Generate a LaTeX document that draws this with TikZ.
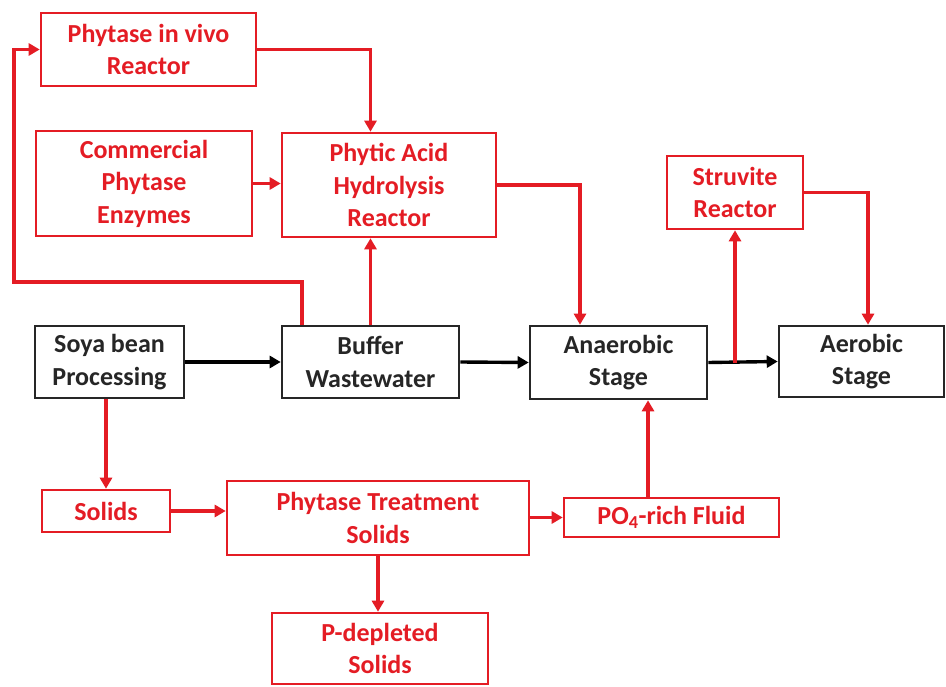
\documentclass[tikz,border=0pt]{standalone}
\usepackage{fontspec}
\setmainfont{Carlito}
\usetikzlibrary{arrows.meta,calc}
\definecolor{fr}{RGB}{228,28,36}
\begin{document}
\begin{tikzpicture}[x=1pt,y=-1pt,
  box/.style={draw,line width=2.6pt,rectangle,inner sep=0pt,align=center,
    font=\fontsize{26}{32.5}\selectfont\bfseries},
  rbox/.style={box,draw=fr,text=fr},
  kbox/.style={box,draw=black!85,text=black!85},
  rarr/.style={draw=fr,line width=3.4pt,-{Triangle[length=11pt,width=12pt]}},
  karr/.style={draw=black,line width=3.4pt,-{Triangle[length=11pt,width=12pt]}}]
\useasboundingbox (0,0) rectangle (946,687);
\fill[white] (0,0) rectangle (946,687);
\node[rbox,minimum width=215pt,minimum height=73pt] (vivo) at (148.5,49.5) {Phytase in vivo\\Reactor};
\node[rbox,minimum width=216pt,minimum height=105pt] (comm) at (144,183.5) {Commercial\\Phytase\\Enzymes};
\node[rbox,minimum width=214pt,minimum height=104pt] (hydro) at (389,185) {Phytic Acid\\Hydrolysis\\Reactor};
\node[rbox,minimum width=136pt,minimum height=73pt] (struv) at (735,192.5) {Struvite\\Reactor};
\node[kbox,minimum width=149pt,minimum height=72pt] (soya) at (109.5,362) {Soya bean\\Processing};
\node[kbox,minimum width=177pt,minimum height=72pt] (buffer) at (370.5,362) {Buffer\\Wastewater};
\node[kbox,minimum width=177pt,minimum height=73pt] (anaer) at (618.5,362.5) {Anaerobic\\Stage};
\node[kbox,minimum width=165pt,minimum height=71pt] (aer) at (861.5,361.5) {Aerobic\\Stage};
\node[rbox,minimum width=128pt,minimum height=42pt] (solids) at (106,511) {Solids};
\node[rbox,minimum width=302pt,minimum height=74pt] (treat) at (378,518) {Phytase Treatment\\Solids};
\node[rbox,minimum width=215pt,minimum height=39pt] (po4) at (671.5,517.5) {PO\textsubscript{4}-rich Fluid};
\node[rbox,minimum width=216pt,minimum height=71pt] (pdep) at (380,648.5) {P-depleted\\Solids};
\coordinate (loop) at (14,282);
% connectors
\draw[rarr] (vivo.east) -| (buffer.north |- hydro.north);
\draw[rarr] ([xshift=-68.5pt]buffer.north) |- (loop) |- (vivo.west);
\draw[rarr] (buffer.north) -- (buffer.north |- hydro.south);
\draw[rarr] (comm.east) -- (comm.east -| hydro.west);
\draw[rarr] (hydro.east) -| ([xshift=-38.5pt]anaer.north);
\draw[karr] (soya.east) -- (buffer.west);
\draw[karr] (buffer.east) -- (anaer.west);
\draw[karr] (anaer.east) -- (aer.west);
\draw[rarr] (anaer.east -| struv.south) -- (struv.south);
\draw[rarr] (struv.east) -| ([xshift=6.5pt]aer.north);
\draw[rarr] (solids.north |- soya.south) -- (solids.north);
\draw[rarr] (solids.east) -- (solids.east -| treat.west);
\draw[rarr] (treat.south) -- (treat.south |- pdep.north);
\draw[rarr] (treat.east |- po4.west) -- (po4.west);
\draw[rarr] ([xshift=-23.5pt]po4.north) -- ([xshift=-23.5pt]po4.north |- anaer.south);
\end{tikzpicture}
\end{document}
